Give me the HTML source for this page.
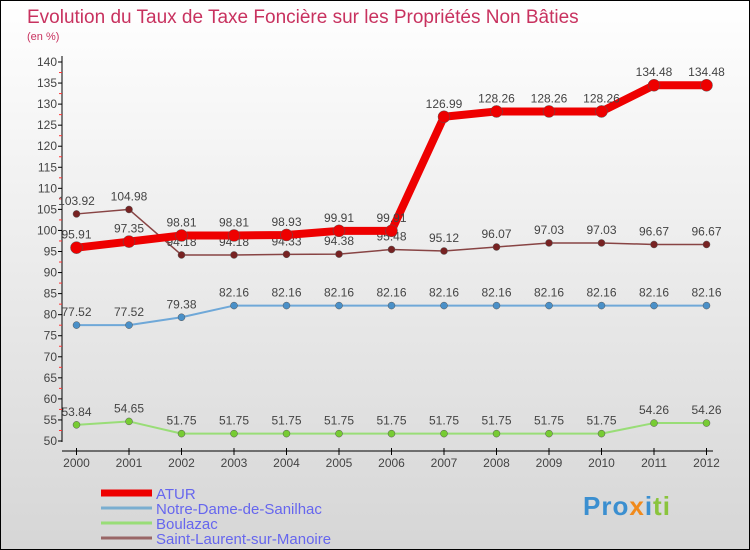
<!DOCTYPE html>
<html><head><meta charset="utf-8"><style>
body{margin:0}
#c{width:750px;height:550px;position:relative;box-sizing:border-box;border:1px solid #000;background:linear-gradient(#ffffff,#d6d6d6);font-family:"Liberation Sans",sans-serif;overflow:hidden}
</style></head><body>
<div id="c">
<svg id="s" width="748" height="548" style="position:absolute;left:0;top:0" font-family="Liberation Sans, sans-serif">
<text x="26" y="22" font-size="19" fill="#c8325f">Evolution du Taux de Taxe Foncière sur les Propriétés Non Bâties</text>
<text x="26" y="39" font-size="11" fill="#c8325f">(en %)</text>
<g id="axes"></g><g id="series"></g><g id="legend"></g>
</svg>
<div style="position:absolute;left:582px;top:490px;font-size:26px;font-weight:bold;letter-spacing:1px"><span style="color:#3b8fd0">Pro</span><span style="color:#f08a1c">x</span><span style="color:#3b8fd0">i</span><span style="color:#8ac43c">ti</span></div>
</div>
<script>
const years=[2000,2001,2002,2003,2004,2005,2006,2007,2008,2009,2010,2011,2012];
const atur=[95.91,97.35,98.81,98.81,98.93,99.91,99.91,126.99,128.26,128.26,128.26,134.48,134.48];
const notre=[77.52,77.52,79.38,82.16,82.16,82.16,82.16,82.16,82.16,82.16,82.16,82.16,82.16];
const boul=[53.84,54.65,51.75,51.75,51.75,51.75,51.75,51.75,51.75,51.75,51.75,54.26,54.26];
const stl=[103.92,104.98,94.18,94.18,94.33,94.38,95.48,95.12,96.07,97.03,97.03,96.67,96.67];
const yTicks=[50,55,60,65,70,75,80,85,90,95,100,105,110,115,120,125,130,135,140];
const names=["ATUR","Notre-Dame-de-Sanilhac","Boulazac","Saint-Laurent-sur-Manoire"];
const NS="http://www.w3.org/2000/svg";
const X=i=>75.5+i*52.5, Y=v=>440-(v-50)*(379/90);
function mk(p,t,a){const e=document.createElementNS(NS,t);for(const k in a)e.setAttribute(k,a[k]);p.appendChild(e);return e;}
const ax=document.getElementById('axes');
const yl=mk(ax,'line',{x1:61,y1:55,x2:61,y2:441,stroke:'#000'});


const xl=mk(ax,'line',{x1:61,y1:450,x2:712,y2:450,stroke:'#000'});


yTicks.forEach(v=>{
 mk(ax,'line',{x1:57,x2:61,y1:Y(v),y2:Y(v),stroke:'#000'});
 if(v<140) mk(ax,'line',{x1:58,x2:61,y1:Y(v+2.5),y2:Y(v+2.5),stroke:'#f33'});
 const t=mk(ax,'text',{x:56,y:Y(v)+4,'text-anchor':'end','font-size':12,fill:'#444'});t.textContent=v;
 
 
});
years.forEach((y,i)=>{
 mk(ax,'line',{x1:X(i),x2:X(i),y1:447,y2:454,stroke:'#000'});
 const t=mk(ax,'text',{x:X(i),y:466,'text-anchor':'middle','font-size':12,fill:'#444'});t.textContent=y;
 
 
});
const sg=document.getElementById('series');
function draw(data,col,w,r,fill,name){
 const g=mk(sg,'g',{});
 
 
 mk(g,'polyline',{points:data.map((v,i)=>X(i)+','+Y(v)).join(' '),fill:'none',stroke:col,'stroke-width':w,'stroke-linejoin':'round'});
 data.forEach((v,i)=>{
  const c=mk(g,'circle',{cx:X(i),cy:Y(v),r:r,fill:fill,stroke:'#555','stroke-width':0.5});
  
  
  const t=mk(g,'text',{x:X(i),y:Y(v)-9,'text-anchor':'middle','font-size':12,fill:'#444'});t.textContent=v;
  
  
 });
}
draw(boul,'#99dd77',2,3.5,'#77cc33','series-boulazac');
draw(notre,'#6fa8d8',2,3.5,'#4a90c8','series-notre-dame');
draw(stl,'#884444',1.5,3.5,'#772222','series-saint-laurent');
draw(atur,'#ee0000',8,6,'#ee0000','series-atur');
const lg=document.getElementById('legend');
const lc=['#ee0000','#7aaed0','#99dd77','#996666'],lw=[7,3,3,3];
names.forEach((n,i)=>{
 const y=492+i*15;
 const g=mk(lg,'g',{});
 
 
 mk(g,'line',{x1:100,x2:151,y1:y,y2:y,stroke:lc[i],'stroke-width':lw[i]});
 const t=mk(g,'text',{x:155,y:y+6,'font-size':15,fill:'#6666ee'});t.textContent=n;
});
</script>
</body></html>
